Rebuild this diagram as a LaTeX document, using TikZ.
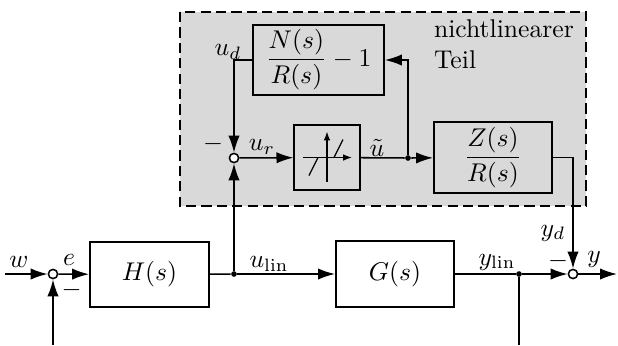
\documentclass[tikz,border=0pt]{standalone}
\usepackage{amsmath}
\usetikzlibrary{arrows.meta,positioning}
\tikzset{
  block/.style={draw, line width=0.8pt, minimum height=25.4pt, inner sep=2pt},
  sumpt/.style={circle, draw, fill=white, line width=0.6pt, inner sep=0pt, minimum size=3.6pt},
  branch/.style={circle, fill, inner sep=0pt, minimum size=2.2pt},
  sig/.style={-{Latex[length=6.6pt,width=4.4pt]}, line width=0.6pt},
  lab/.style={inner sep=0pt}
}
\begin{document}
\begin{tikzpicture}[x=0.39pt,y=-0.39pt]
  \useasboundingbox (0,0) rectangle (618,345);

  % The grey dashed frame of the nonlinear part
  \fill [black!15] (180,12) rectangle (586,206);
  \draw [line width=0.6pt, dash pattern=on 4pt off 2pt] (180,12) rectangle (586,206);
  \node [align=left, anchor=north west, inner sep=1pt] (teil) at (431,17) {nichtlinearer\\Teil};

  % Blocks
  \node [block, minimum width=46.4pt] (H) at (149.5,274.5) {$H(s)$};
  \node [block, minimum width=46pt] (G) at (395,274) {$G(s)$};
  \node [block, minimum width=51pt] (NR) at (318.5,60) {$\dfrac{N(s)}{R(s)}-1$};
  \node [block, minimum width=25.4pt] (sat) at (327,157.5) {};
  \node [block, minimum width=46pt] (Z) at (493,157.5) {$\dfrac{Z(s)}{R(s)}$};

  % Characteristic inside the saturation block
  \draw [-{Latex[length=3.5pt,width=2.6pt]}, line width=0.5pt] ([xshift=-24*0.39pt]sat.center) -- ([xshift=25*0.39pt]sat.center);
  \draw [-{Latex[length=3.5pt,width=2.6pt]}, line width=0.5pt] ([yshift=-24*0.39pt]sat.center) -- ([yshift=26*0.39pt]sat.center);
  \draw [line width=0.5pt] (sat.center) ++(-18,18) -- ++(9,-18);
  \draw [line width=0.5pt] (sat.center) ++(7,0) -- ++(9,-18);

  % Summing points and branch points
  \node [sumpt] (sw) at (53,274) {};
  \node [sumpt] (sr) at (234,158) {};
  \node [sumpt] (sy) at (573,274) {};
  \foreach \n/\x/\y in {b1/234/274, b2/408/158, b3/519/274} {
    \node [branch] (\n) at (\x,\y) {};
  }
  \coordinate (win) at (5,274);
  \coordinate (yout) at (617,274);
  \coordinate (fbw) at (53,345);
  \coordinate (fby) at (519,345);

  % Connections
  \draw [sig] (win) -- (sw);
  \draw [sig] (sw) -- (H);
  \draw [line width=0.6pt] (H) -- (b1);
  \draw [sig] (b1) -- (G);
  \draw [sig] (b1) -- (sr);
  \draw [sig] (sr) -- (sat);
  \draw [line width=0.6pt] (sat) -- (b2);
  \draw [sig] (b2) -- (Z);
  \draw [sig] (b2) |- (NR.east);
  \draw [sig] (NR.west) -| (sr);
  \draw [sig] (Z.east) -| (sy);
  \draw [line width=0.6pt] (G) -- (b3);
  \draw [sig] (b3) -- (sy);
  \draw [sig] (sy) -- (yout);
  \draw [sig] (fbw) -- (sw);
  \draw [line width=0.6pt] (b3) -- (fby);

  % Signal names and signs
  \foreach \n/\x/\y/\t in {
    lw/19/262/{$w$},
    le/69/260/{$e$},
    lmw/71.5/290/{$-$},
    lulin/269/264/{$u_{\mathrm{lin}}$},
    lylin/497/262/{$y_{\mathrm{lin}}$},
    lyd/553/233/{$y_d$},
    lmy/558/261/{$-$},
    ly/594/259/{$y$},
    lur/262/147/{$u_r$},
    lut/377/148/{$\tilde{u}$},
    lud/228/52/{$u_d$},
    lmr/213/144/{$-$}} {
    \node [lab] (\n) at (\x,\y) {\t};
  }
\end{tikzpicture}
\end{document}
